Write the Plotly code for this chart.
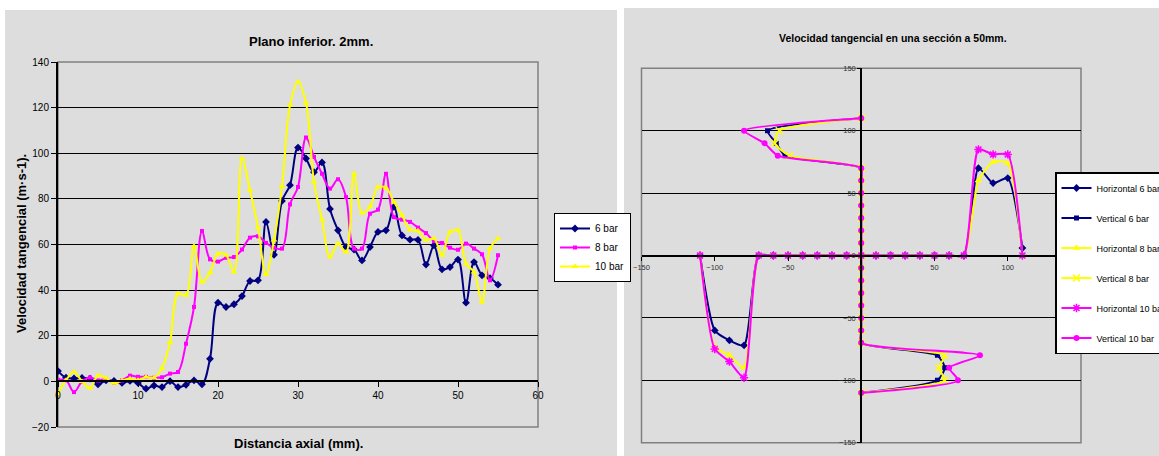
import plotly.graph_objects as go

# ---------------- Left chart: Plano inferior. 2mm. ----------------
dist_mm = list(range(0, 56))

vel_6bar = [4.5, 1.6, 1.3, 1.5, 1.2, -1.3, 0.4, 0.2, -0.7, 0.2, -0.7,
            -3.2, -1.8, -2.5, 0.1, -2.5, -1.5, 0.4, -1.3,
            9.9, 34.5, 32.6, 33.8, 37.4, 44.0, 44.3, 69.9, 55.5, 79.1, 86.0, 102.5,
            97.7, 91.7, 96.0, 75.6, 66.2, 58.9, 57.8, 53.0, 58.9, 65.5, 66.2, 76.5,
            64.0, 62.1, 62.0, 51.2, 59.6, 49.1, 50.1, 53.4, 34.5, 52.3, 46.5, 45.3, 42.4]

vel_8bar = [0.7, 0.5, -4.7, 0.0, 1.7, 0.4, 1.0, -0.7, 0.4, 2.5, 2.0,
            2.0, 1.6, 1.8, 3.4, 4.1, 16.5, 32.6, 65.9,
            53.5, 52.5, 54.2, 54.5, 57.8, 63.0, 63.6, 60.7, 58.6, 58.2, 77.6, 85.2,
            106.9, 98.4, 91.0, 84.5, 88.6, 80.8, 58.2, 58.2, 73.5, 75.3, 91.0, 72.0,
            70.9, 69.9, 67.4, 65.0, 61.5, 60.7, 58.6, 57.7, 60.4, 58.2, 55.7, 44.3, 55.3]

vel_10bar = [-5.4, 0.5, 4.1, 0.0, -3.0, 2.6, 1.5, -0.8, 0.4, 1.2, 0.5,
             1.9, 1.6, 5.8, 17.0, 38.5, 37.7, 59.2, 43.6,
             47.7, 56.0, 55.3, 48.0, 97.7, 83.8, 67.4, 46.8, 62.0, 85.5, 121.0, 131.3,
             122.0, 87.4, 70.9, 54.5, 60.4, 56.7, 91.0, 73.8, 76.5, 85.2, 84.8, 78.6,
             72.8, 66.5, 66.0, 62.0, 62.6, 55.3, 65.5, 66.2, 51.6, 48.0, 34.8, 58.2, 62.6]

left_names = ["6 bar", "8 bar", "10 bar"]

# ---------------- Right chart: sección a 50mm ----------------
section_pos = [-110, -100, -90, -80, -70, -60, -50, -40, -30, -20, -10, 0,
               10, 20, 30, 40, 50, 60, 70, 80, 90, 100, 110]

# horizontal traverse: velocity (y) at each horizontal position
horiz_6bar = [0, -60, -68, -72, 0, 0, 0, 0, 0, 0, 0, 0, 0, 0, 0, 0, 0, 0, 0, 70, 58, 62, 6]
horiz_8bar = [0, -73, -80, -90, 0, 0, 0, 0, 0, 0, 0, 0, 0, 0, 0, 0, 0, 0, 0, 60, 75, 74, 0]
horiz_10bar = [0, -75, -85, -98, 0, 0, 0, 0, 0, 0, 0, 0, 0, 0, 0, 0, 0, 0, 0, 85, 81, 81, 0]

# vertical traverse: velocity (x) at each vertical position
vert_6bar = [0, 52, 57, 52, 0, 0, 0, 0, 0, 0, 0, 0, 0, 0, 0, 0, 0, 0, 0, -52, -58, -64, 0]
vert_8bar = [0, 57, 53, 57, 0, 0, 0, 0, 0, 0, 0, 0, 0, 0, 0, 0, 0, 0, 0, -49, -59, -56, 0]
vert_10bar = [0, 66, 60, 81, 0, 0, 0, 0, 0, 0, 0, 0, 0, 0, 0, 0, 0, 0, 0, -57, -66, -80, 0]

right_names = ["Horizontal 6 bar", "Vertical 6 bar", "Horizontal 8 bar",
               "Vertical 8 bar", "Horizontal 10 bar", "Vertical 10 bar"]

NAVY = "#000080"
MAGENTA = "#FF00FF"
YELLOW = "#FFFF00"
FONT = "Liberation Sans, Arial, sans-serif"

W, H = 1159, 456


def px_x(p):
    return p / W


def px_y(p):
    return 1 - p / H


fig = go.Figure()

# left chart series
left_series = [
    (vel_6bar, NAVY, dict(symbol="diamond", size=6)),
    (vel_8bar, MAGENTA, dict(symbol="square", size=4)),
    (vel_10bar, YELLOW, dict(symbol="triangle-up", size=6)),
]
for name, (vals, col, mk) in zip(left_names, left_series):
    fig.add_trace(go.Scatter(
        x=dist_mm, y=vals, name=name, mode="lines+markers",
        line=dict(color=col, width=2, shape="spline", smoothing=1),
        marker=dict(color=col, **mk),
        xaxis="x", yaxis="y", legend="legend",
    ))

# right chart series
right_series = [
    ("h", horiz_6bar, NAVY, dict(symbol="diamond", size=6, color=NAVY)),
    ("v", vert_6bar, NAVY, dict(symbol="square", size=5, color=NAVY)),
    ("h", horiz_8bar, YELLOW, dict(symbol="triangle-up", size=7, color=YELLOW)),
    ("v", vert_8bar, YELLOW, dict(symbol="x-thin", size=7, color=YELLOW,
                                  line=dict(color=YELLOW, width=1.5))),
    ("h", horiz_10bar, MAGENTA, dict(symbol="asterisk", size=7, color=MAGENTA,
                                     line=dict(color=MAGENTA, width=1.5))),
    ("v", vert_10bar, MAGENTA, dict(symbol="circle", size=6, color=MAGENTA)),
]
for i, (name, (kind, vals, col, mk)) in enumerate(zip(right_names, right_series)):
    if kind == "h":
        xs, ys = section_pos, vals
    else:
        xs, ys = vals, section_pos
    fig.add_trace(go.Scatter(
        x=xs, y=ys, name=name, mode="lines+markers",
        line=dict(color=col, width=2, shape="spline", smoothing=0.6),
        marker=mk, xaxis="x2", yaxis="y2", legend="legend2",
        legendgroup=f"g{i}",
    ))

# plot-area geometry (pixels)
L_x0, L_x1, L_y0, L_y1 = 58, 538, 62, 427
R_x0, R_x1, R_y0, R_y1 = 641.5, 1081, 68.3, 442.7

ly_dom = [px_y(L_y1), px_y(L_y0)]
ry_dom = [px_y(R_y1), px_y(R_y0)]
rx_dom = [px_x(R_x0), px_x(R_x1)]

# x axis of the left chart crosses at y = 0
y_range_left = [-20, 140]
left_xpos = ly_dom[0] + (0 - y_range_left[0]) / (y_range_left[1] - y_range_left[0]) * (ly_dom[1] - ly_dom[0])
right_xpos = (ry_dom[0] + ry_dom[1]) / 2
right_ypos = (rx_dom[0] + rx_dom[1]) / 2

tick_vals_right = [-150, -100, -50, 0, 50, 100, 150]

fig.update_layout(
    width=W, height=H,
    margin=dict(l=0, r=0, t=0, b=0, autoexpand=False),
    paper_bgcolor="white",
    plot_bgcolor="#C0C0C0",
    font=dict(family=FONT, color="black"),
    showlegend=True,
    xaxis=dict(
        domain=[px_x(L_x0), px_x(L_x1)], range=[0, 60], tick0=0, dtick=10,
        anchor="free", position=left_xpos,
        showline=True, linecolor="black", linewidth=2,
        ticks="outside", ticklen=5, tickcolor="black", tickwidth=1,
        tickfont=dict(size=10, family=FONT, color="black"),
        showgrid=False, zeroline=False,
    ),
    yaxis=dict(
        domain=ly_dom, range=y_range_left, tick0=-20, dtick=20, anchor="x",
        showline=True, linecolor="black", linewidth=2,
        ticks="outside", ticklen=5, tickcolor="black", tickwidth=1,
        tickfont=dict(size=10, family=FONT, color="black"),
        showgrid=True, gridcolor="black", gridwidth=1.3, zeroline=False,
    ),
    xaxis2=dict(
        domain=rx_dom, range=[-150, 150], tickvals=tick_vals_right,
        anchor="free", position=right_xpos,
        showline=True, linecolor="black", linewidth=2,
        ticks="outside", ticklen=4, tickcolor="black",
        tickfont=dict(size=7.5, family=FONT, color="#333333"),
        showgrid=False, zeroline=False,
    ),
    yaxis2=dict(
        domain=ry_dom, range=[-150, 150], tickvals=tick_vals_right,
        anchor="free", position=right_ypos,
        showline=True, linecolor="black", linewidth=2,
        ticks="outside", ticklen=3, tickcolor="black",
        tickfont=dict(size=7.5, family=FONT, color="#333333"),
        showgrid=True, gridcolor="black", gridwidth=1.3, zeroline=False,
    ),
    legend=dict(
        x=px_x(554), y=px_y(213), xanchor="left", yanchor="top",
        bgcolor="white", bordercolor="black", borderwidth=1,
        font=dict(size=10, family=FONT, color="black"),
        itemwidth=30, traceorder="normal",
    ),
    legend2=dict(
        x=px_x(1055), y=px_y(172), xanchor="left", yanchor="top",
        bgcolor="white", bordercolor="black", borderwidth=1.5,
        font=dict(size=9, family=FONT, color="black"),
        itemwidth=30, traceorder="grouped", tracegroupgap=11,
    ),
)

# chart-area backgrounds and plot-area borders
shapes = [
    dict(type="rect", xref="paper", yref="paper", layer="below",
         x0=px_x(5), x1=px_x(617), y0=0, y1=px_y(10),
         fillcolor="#DDDDDD", line=dict(width=0)),
    dict(type="rect", xref="paper", yref="paper", layer="below",
         x0=px_x(624), x1=1, y0=0, y1=px_y(8),
         fillcolor="#DDDDDD", line=dict(width=0)),
    dict(type="rect", xref="x domain", yref="y domain", layer="below",
         x0=0, x1=1, y0=0, y1=1, line=dict(color="#808080", width=1.5)),
    dict(type="rect", xref="x2 domain", yref="y2 domain", layer="below",
         x0=0, x1=1, y0=0, y1=1, line=dict(color="#808080", width=1.5)),
]
fig.update_layout(shapes=shapes)

annotations = [
    dict(text="<b>Plano inferior. 2mm.</b>", x=px_x(311), y=px_y(41),
         font=dict(size=13, family=FONT, color="black")),
    dict(text="<b>Distancia axial (mm).</b>", x=px_x(298), y=px_y(443),
         font=dict(size=13, family=FONT, color="black")),
    dict(text="<b>Velocidad tangencial (m·s-1).</b>", x=px_x(21), y=px_y(244),
         textangle=-90, font=dict(size=13, family=FONT, color="black")),
    dict(text="<b>Velocidad tangencial en una sección a 50mm.</b>", x=px_x(892.6),
         y=px_y(38), font=dict(size=10.5, family=FONT, color="black")),
]
for a in annotations:
    a.update(xref="paper", yref="paper", showarrow=False,
             xanchor="center", yanchor="middle")
fig.update_layout(annotations=annotations)

fig.write_html("out.html")
